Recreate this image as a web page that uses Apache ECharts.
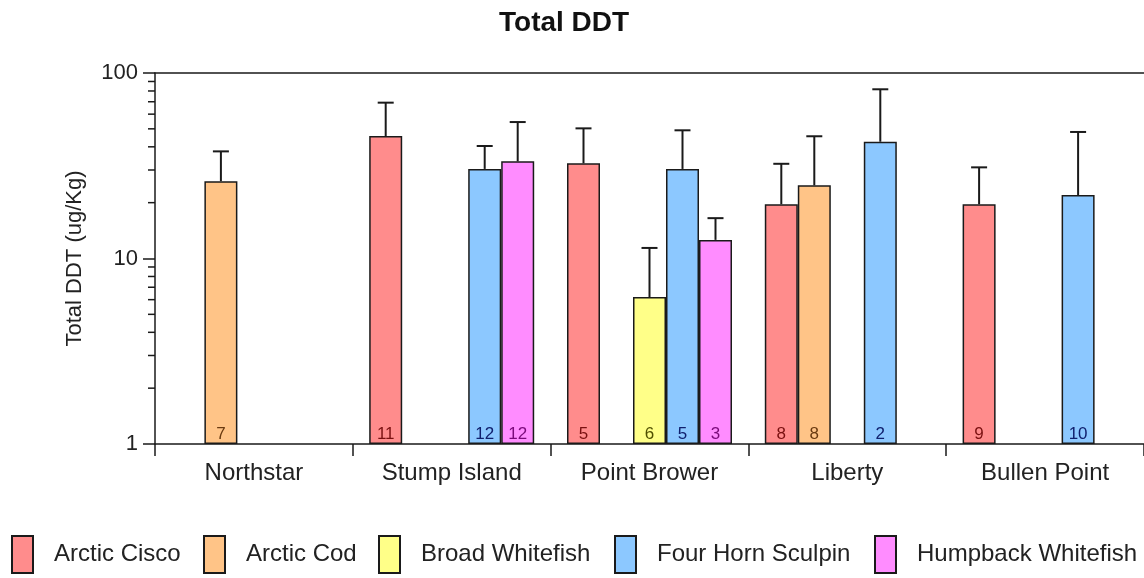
<!DOCTYPE html>
<html>
<head>
<meta charset="utf-8">
<script src="https://cdn.jsdelivr.net/npm/echarts@6/dist/echarts.min.js"></script>
<style>html,body{margin:0;padding:0;background:#fff}#c{width:1144px;height:578px}</style>
</head>
<body>
<div id="c"></div>
<script>
var categories = ['Northstar', 'Stump Island', 'Point Brower', 'Liberty', 'Bullen Point'];
var speciesNames = ['Arctic Cisco', 'Arctic Cod', 'Broad Whitefish', 'Four Horn Sculpin', 'Humpback Whitefish'];

var arcticCisco      = [null, 45.7, 32.6, 19.6, 19.6];
var arcticCiscoErr   = [null, 69.2, 50.3, 32.4, 31.0];
var arcticCiscoN     = [null, 11, 5, 8, 9];

var arcticCod        = [26.1, null, null, 24.8, null];
var arcticCodErr     = [37.8, null, null, 45.6, null];
var arcticCodN       = [7, null, null, 8, null];

var broadWhitefish   = [null, null, 6.2, null, null];
var broadWhitefishErr= [null, null, 11.4, null, null];
var broadWhitefishN  = [null, null, 6, null, null];

var fourHorn         = [null, 30.4, 30.4, 42.6, 22.0];
var fourHornErr      = [null, 40.4, 49.1, 81.7, 48.1];
var fourHornN        = [null, 12, 5, 2, 10];

var humpback         = [null, 33.4, 12.6, null, null];
var humpbackErr      = [null, 54.4, 16.5, null, null];
var humpbackN        = [null, 12, 3, null, null];

var minorTickValues  = [2, 3, 4, 5, 6, 7, 8, 9, 20, 30, 40, 50, 60, 70, 80, 90];

var values = [arcticCisco, arcticCod, broadWhitefish, fourHorn, humpback];
var errs   = [arcticCiscoErr, arcticCodErr, broadWhitefishErr, fourHornErr, humpbackErr];
var counts = [arcticCiscoN, arcticCodN, broadWhitefishN, fourHornN, humpbackN];
var fills  = ['#FF8C8C', '#FFC487', '#FFFF88', '#8CC8FF', '#FF8CFF'];
var labelColors = ['#7a1010', '#6a3a10', '#505000', '#10206e', '#7a0a7a'];
var legendLeft = [11, 203, 378, 614, 874];

var BAR_W = 33;
var FONT = 'Liberation Sans, Arial, sans-serif';

var series = [];
speciesNames.forEach(function (name, si) {
  series.push({
    name: name,
    type: 'bar',
    barWidth: BAR_W,
    barGap: '0%',
    itemStyle: { color: fills[si], borderColor: '#1a1a1a', borderWidth: 1.5 },
    label: {
      show: true,
      position: 'insideBottom',
      distance: 1,
      fontFamily: FONT,
      fontSize: 17,
      color: labelColors[si],
      formatter: (function (idx) {
        return function (p) { var n = counts[idx][p.dataIndex]; return n == null ? '' : String(n); };
      })(si)
    },
    emphasis: { disabled: true },
    data: values[si],
    z: 2
  });
});

speciesNames.forEach(function (name, si) {
  var d = [];
  values[si].forEach(function (v, ci) { if (v != null) d.push([ci, v, errs[si][ci]]); });
  series.push({
    type: 'custom',
    name: name + ' err',
    clip: false,
    silent: true,
    z: 5,
    encode: { x: 0, y: [1, 2] },
    data: d,
    renderItem: function (params, api) {
      var ci = api.value(0);
      var top = api.coord([ci, api.value(1)]);
      var hi = api.coord([ci, api.value(2)]);
      var x = top[0] + (si - 2) * BAR_W;
      var style = { stroke: '#1a1a1a', lineWidth: 2 };
      return {
        type: 'group',
        children: [
          { type: 'line', shape: { x1: x, y1: top[1], x2: x, y2: hi[1] }, style: style },
          { type: 'line', shape: { x1: x - 8, y1: hi[1], x2: x + 8, y2: hi[1] }, style: style }
        ]
      };
    }
  });
});

series.push({
  type: 'custom',
  name: 'minor ticks',
  clip: false,
  silent: true,
  encode: { x: 0, y: 1 },
  data: minorTickValues.map(function (v) { return [0, v]; }),
  renderItem: function (params, api) {
    var p = api.coord([0, api.value(1)]);
    var x0 = params.coordSys.x;
    return { type: 'line', shape: { x1: x0 - 7, y1: p[1], x2: x0, y2: p[1] }, style: { stroke: '#1a1a1a', lineWidth: 1.5 } };
  }
});

var legends = speciesNames.map(function (name, si) {
  return {
    data: [name],
    left: legendLeft[si],
    top: 535,
    padding: 0,
    orient: 'horizontal',
    itemWidth: 21,
    itemHeight: 37,
    itemGap: 0,
    selectedMode: false,
    icon: 'rect',
    textStyle: { fontFamily: FONT, fontSize: 24, color: '#222', padding: [0, 0, 0, 16] }
  };
});

var chart = echarts.init(document.getElementById('c'));
chart.setOption({
  animation: false,
  backgroundColor: '#fff',
  title: {
    text: 'Total DDT',
    left: 494,
    top: 4,
    textStyle: { fontFamily: FONT, fontSize: 28, fontWeight: 'bold', color: '#111' }
  },
  legend: legends,
  grid: { left: 155, right: 0, top: 73, bottom: 134 },
  xAxis: [{
    type: 'category',
    data: categories,
    axisLine: { lineStyle: { color: '#1a1a1a', width: 1.5 } },
    axisTick: { show: true, length: 12, alignWithLabel: false, lineStyle: { color: '#1a1a1a', width: 1.5 } },
    axisLabel: { fontFamily: FONT, fontSize: 24, color: '#222', margin: 17 }
  }, {
    type: 'category',
    position: 'top',
    data: categories,
    axisLine: { show: true, lineStyle: { color: '#1a1a1a', width: 1.5 } },
    axisTick: { show: false },
    axisLabel: { show: false }
  }],
  yAxis: {
    type: 'log',
    logBase: 10,
    min: 1,
    max: 100,
    name: 'Total DDT (ug/Kg)',
    nameLocation: 'middle',
    nameRotate: 90,
    nameGap: 69,
    nameTextStyle: { fontFamily: FONT, fontSize: 22, color: '#222' },
    axisLine: { show: true, lineStyle: { color: '#1a1a1a', width: 1.5 } },
    axisTick: { show: true, length: 12, lineStyle: { color: '#1a1a1a', width: 1.5 } },
    axisLabel: { fontFamily: FONT, fontSize: 22, color: '#222', margin: 17 },
    splitLine: { show: false }
  },
  series: series
});
</script>
</body>
</html>
